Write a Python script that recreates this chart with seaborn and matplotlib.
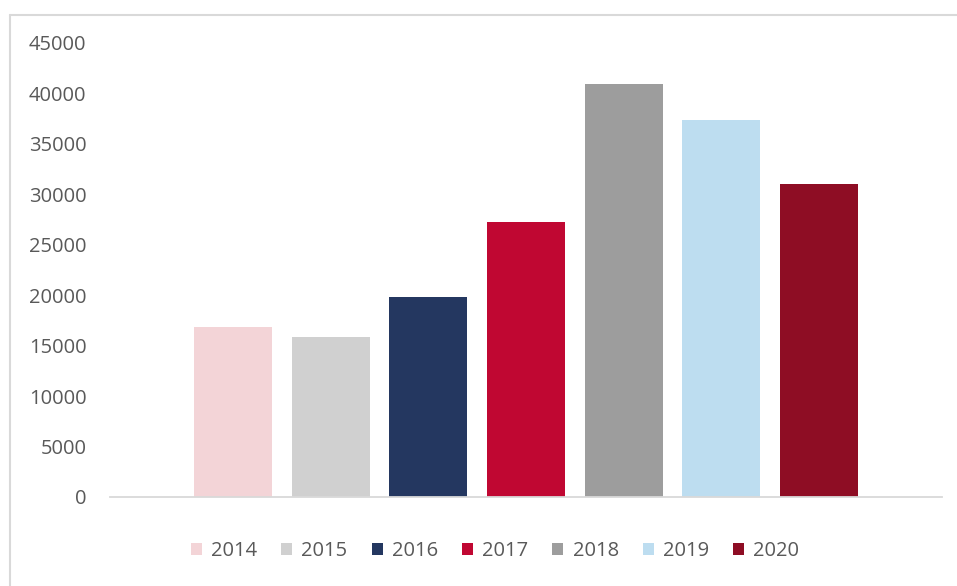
import matplotlib
matplotlib.use("Agg")
import matplotlib.pyplot as plt
import seaborn as sns
import pandas as pd
from matplotlib.patches import Patch
from matplotlib.lines import Line2D

years = ["2014", "2015", "2016", "2017", "2018", "2019", "2020"]
values = [16850, 15850, 19850, 27300, 40900, 37400, 31000]
colors = ["#F3D4D7", "#D0D0D0", "#243760", "#C00732", "#9D9D9D", "#BDDDF0", "#8E0D24"]
yticks = [0, 5000, 10000, 15000, 20000, 25000, 30000, 35000, 40000, 45000]

sns.set_theme(style="white")
plt.rcParams['font.family'] = ['Open Sans', 'DejaVu Sans']

df = pd.DataFrame({"year": years, "value": values})

fig = plt.figure(figsize=(9.57, 5.86), dpi=100)
ax = fig.add_axes([110/957, 1 - 497/586, (942-110)/957, (497-43)/586])

sns.barplot(data=df, x="year", y="value", hue="year", order=years,
            hue_order=years, palette=colors, dodge=False, width=0.8,
            legend=False, ax=ax, saturation=1, edgecolor="none")

ax.set_xlim(-1.26, 6 + 1.26)
ax.set_ylim(0, 45000)
ax.set_yticks(yticks)
ax.set_yticklabels([str(v) for v in yticks], fontsize=14.5, color="#595959")
ax.tick_params(axis="y", length=0, pad=17)
ax.set_xticks([])
ax.set_xlabel("")
ax.set_ylabel("")
for s in ["top", "right", "left"]:
    ax.spines[s].set_visible(False)
ax.spines["bottom"].set_color("#D9D9D9")
ax.spines["bottom"].set_linewidth(1.3)

# outer chart frame (partly cropped)
fig.add_artist(Line2D([10/957, 1.0], [1 - 15/586, 1 - 15/586], color="#D9D9D9",
                      lw=1.5, transform=fig.transFigure))
fig.add_artist(Line2D([10/957, 10/957], [0.0, 1 - 15/586], color="#D9D9D9",
                      lw=1.5, transform=fig.transFigure))

handles = [Patch(facecolor=c, edgecolor="none", label=y) for y, c in zip(years, colors)]
fig.legend(handles=handles, loc="center", bbox_to_anchor=(495/957, 1 - 551/586),
           ncol=7, frameon=False, fontsize=14.5, handlelength=0.55, handleheight=0.55,
           handletextpad=0.45, columnspacing=1.2, labelcolor="#595959")

fig.savefig("out.png", dpi=100)
